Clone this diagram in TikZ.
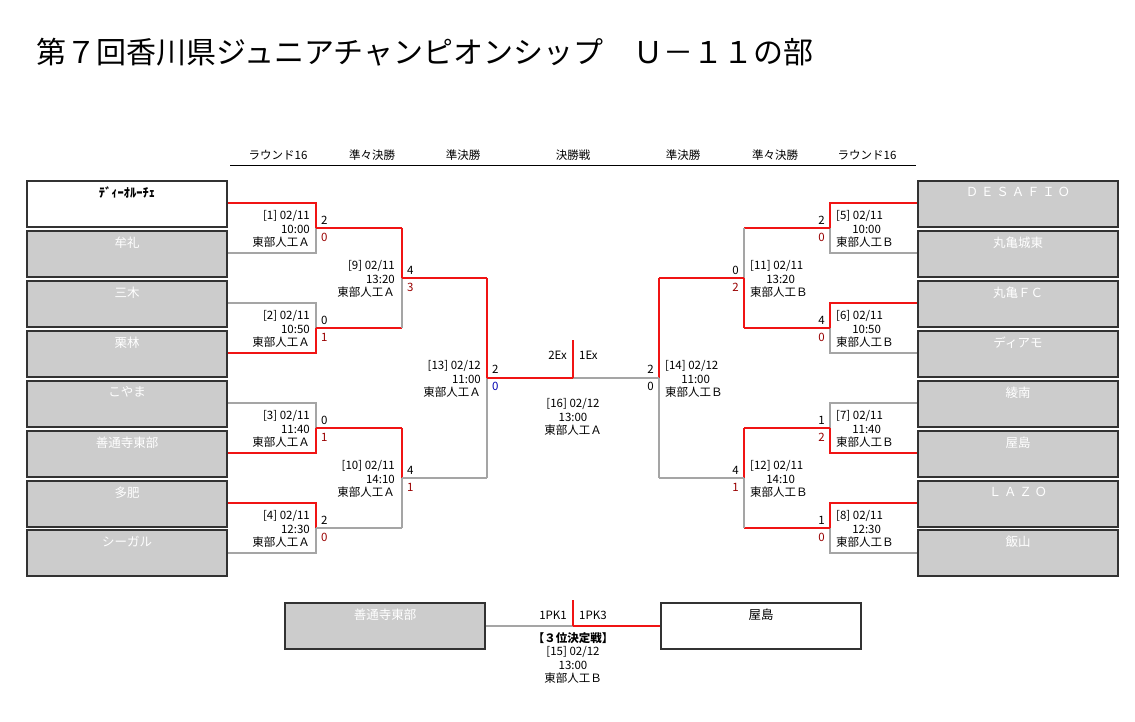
\documentclass[tikz,border=0pt]{standalone}
\usepackage{fontspec}
\setmainfont{Noto Sans CJK JP}
\begin{document}
\begin{tikzpicture}[x=1pt,y=-1pt,
  R/.style={draw={rgb,255:red,240;green,20;blue,20},line width=1.3pt},
  G/.style={draw={rgb,255:red,165;green,165;blue,165},line width=1.3pt},
  tb/.style={minimum width=200pt,minimum height=46pt,inner sep=0,line width=1.6pt,draw={rgb,255:red,50;green,50;blue,50}},
  gbox/.style={tb,fill={rgb,255:red,204;green,204;blue,204}},
  wbox/.style={tb,fill=white},
  wt/.style={anchor=north,yshift=-3pt,text=white,font=\fontsize{12.5}{13}\selectfont},
  bt/.style={anchor=north,yshift=-3pt,text=black,font=\fontsize{12.5}{13}\selectfont},
  sm/.style={font=\fontsize{11.5}{13.5}\selectfont,inner sep=0},
  hd/.style={font=\fontsize{11.5}{12}\selectfont,inner sep=0}]
\useasboundingbox[fill=white] (0,0) rectangle (1135,722);
\node[anchor=west,inner sep=0,font=\fontsize{30}{32}\selectfont] (title) at (36,52) {第７回香川県ジュニアチャンピオンシップ　Ｕ－１１の部};
% headers
\foreach \x/\t [count=\i] in {278/ラウンド16,372/準々決勝,463/準決勝,573/決勝戦,683/準決勝,775/準々決勝,867/ラウンド16}
  \node[hd] (h\i) at (\x,155) {\t};
\draw[line width=1pt] (230,166) -- (916,166);
% boxes
\newcommand\bx[5]{\node[#1,label={[#2]north:{#5}}] (#3) at (#4) {};}
\bx{wbox}{bt}{L1}{127,204}{\textbf{ﾃﾞｨｰｵﾙｰﾁｪ}}
\bx{gbox}{wt}{L2}{127,254}{牟礼}
\bx{gbox}{wt}{L3}{127,304}{三木}
\bx{gbox}{wt}{L4}{127,354}{栗林}
\bx{gbox}{wt}{L5}{127,404}{こやま}
\bx{gbox}{wt}{L6}{127,454}{善通寺東部}
\bx{gbox}{wt}{L7}{127,504}{多肥}
\bx{gbox}{wt}{L8}{127,553}{シーガル}
\bx{gbox}{wt}{R1}{1018,204}{Ｄ Ｅ Ｓ Ａ Ｆ Ｉ Ｏ}
\bx{gbox}{wt}{R2}{1018,254}{丸亀城東}
\bx{gbox}{wt}{R3}{1018,304}{丸亀ＦＣ}
\bx{gbox}{wt}{R4}{1018,354}{ディアモ}
\bx{gbox}{wt}{R5}{1018,404}{綾南}
\bx{gbox}{wt}{R6}{1018,454}{屋島}
\bx{gbox}{wt}{R7}{1018,504}{Ｌ Ａ Ｚ Ｏ}
\bx{gbox}{wt}{R8}{1018,553}{飯山}
\bx{gbox}{wt}{T1}{385,626}{善通寺東部}
\bx{wbox}{bt}{T2}{761,626}{屋島}
% generic segment
\newcommand\sg[5]{\draw[#1] (#2,#3) -- (#4,#5);}
\foreach \yt/\ta/\tb/\o in {203/R/G/R,303/G/R/R,403/G/R/R,503/R/G/G}{
  \pgfmathsetmacro\yb{\yt+50}\pgfmathsetmacro\ym{\yt+25}
  \draw[\ta] (228,\yt) -- (316,\yt) -- (316,\ym);
  \draw[\tb] (228,\yb) -- (316,\yb) -- (316,\ym);
  \draw[\o] (316,\ym) -- (402,\ym);}
\foreach \yt/\ta/\tb/\o in {203/R/G/R,303/R/G/R,403/G/R/R,503/R/G/R}{
  \pgfmathsetmacro\yb{\yt+50}\pgfmathsetmacro\ym{\yt+25}
  \draw[\ta] (917,\yt) -- (830,\yt) -- (830,\ym);
  \draw[\tb] (917,\yb) -- (830,\yb) -- (830,\ym);
  \draw[\o] (830,\ym) -- (744,\ym);}
% QF
\sg{R}{402}{228}{402}{278}\sg{G}{402}{278}{402}{328}\sg{R}{402}{278}{487}{278}
\sg{R}{402}{428}{402}{478}\sg{G}{402}{478}{402}{528}\sg{G}{402}{478}{487}{478}
\sg{G}{744}{228}{744}{278}\sg{R}{744}{278}{744}{328}\sg{R}{744}{278}{659}{278}
\sg{R}{744}{428}{744}{478}\sg{G}{744}{478}{744}{528}\sg{G}{744}{478}{659}{478}
% SF
\sg{R}{487}{278}{487}{378}\sg{G}{487}{378}{487}{478}\sg{R}{487}{378}{573}{378}
\sg{R}{659}{278}{659}{378}\sg{G}{659}{378}{659}{478}\sg{G}{659}{378}{573}{378}
\sg{R}{573}{340}{573}{378}
% third place
\draw[G] (T1.east) -- (573,626);
\draw[R] (573,626) -- (T2.west);
\sg{R}{573}{600}{573}{626}
% match info
\newcommand\infoL[5]{\node[sm,anchor=east,align=right] (#1) at (#2,#3) {#4\\#5\\東部人工Ａ};}
\newcommand\infoR[5]{\node[sm,anchor=west,align=left] (#1) at (#2,#3) {#4\\\phantom{[0]}\,#5\\東部人工Ｂ};}
\infoL{m1}{310}{229}{[1] 02/11}{10:00}
\infoL{m2}{310}{329}{[2] 02/11}{10:50}
\infoL{m3}{310}{429}{[3] 02/11}{11:40}
\infoL{m4}{310}{529}{[4] 02/11}{12:30}
\infoL{m9}{395}{279}{[9] 02/11}{13:20}
\infoL{m10}{395}{479}{[10] 02/11}{14:10}
\infoL{m13}{481}{379}{[13] 02/12}{11:00}
\infoR{m5}{836}{229}{[5] 02/11}{10:00}
\infoR{m6}{836}{329}{[6] 02/11}{10:50}
\infoR{m7}{836}{429}{[7] 02/11}{11:40}
\infoR{m8}{836}{529}{[8] 02/11}{12:30}
\infoR{m11}{750}{279}{[11] 02/11}{13:20}
\infoR{m12}{750}{479}{[12] 02/11}{14:10}
\infoR{m14}{665}{379}{[14] 02/12}{11:00}
\node[sm,align=center] (m16) at (573,417) {[16] 02/12\\13:00\\東部人工Ａ};
\node[sm,align=center] (m15) at (573,658) {\textbf{【３位決定戦】}\\{}[15] 02/12\\13:00\\東部人工Ｂ};
% scores
\colorlet{sc2}{red!60!black}
\newcommand\scL[4]{\node[sm,anchor=west] at (#1,#2) {#3}; \node[sm,anchor=west,text=sc2] at (#1,#2+17) {#4};}
\newcommand\scR[4]{\node[sm,anchor=east] at (#1,#2) {#3}; \node[sm,anchor=east,text=sc2] at (#1,#2+17) {#4};}
\scL{321}{220}{2}{0}\scL{321}{320}{0}{1}\scL{321}{420}{0}{1}\scL{321}{520}{2}{0}
\scL{407}{270}{4}{3}\scL{407}{470}{4}{1}
\scR{825}{220}{2}{0}\scR{825}{320}{4}{0}\scR{825}{420}{1}{2}\scR{825}{520}{1}{0}
\scR{739}{270}{0}{2}\scR{739}{470}{4}{1}
\node[sm,anchor=west] at (492,369) {2}; \node[sm,anchor=west,text=blue!70!black] at (492,386) {0};
\node[sm,anchor=east] at (654,369) {2}; \node[sm,anchor=east] at (654,386) {0};
\node[sm,anchor=east] at (567,355) {2Ex}; \node[sm,anchor=west] at (579,355) {1Ex};
\node[sm,anchor=east] at (567,615) {1PK1}; \node[sm,anchor=west] at (579,615) {1PK3};
\end{tikzpicture}
\end{document}
